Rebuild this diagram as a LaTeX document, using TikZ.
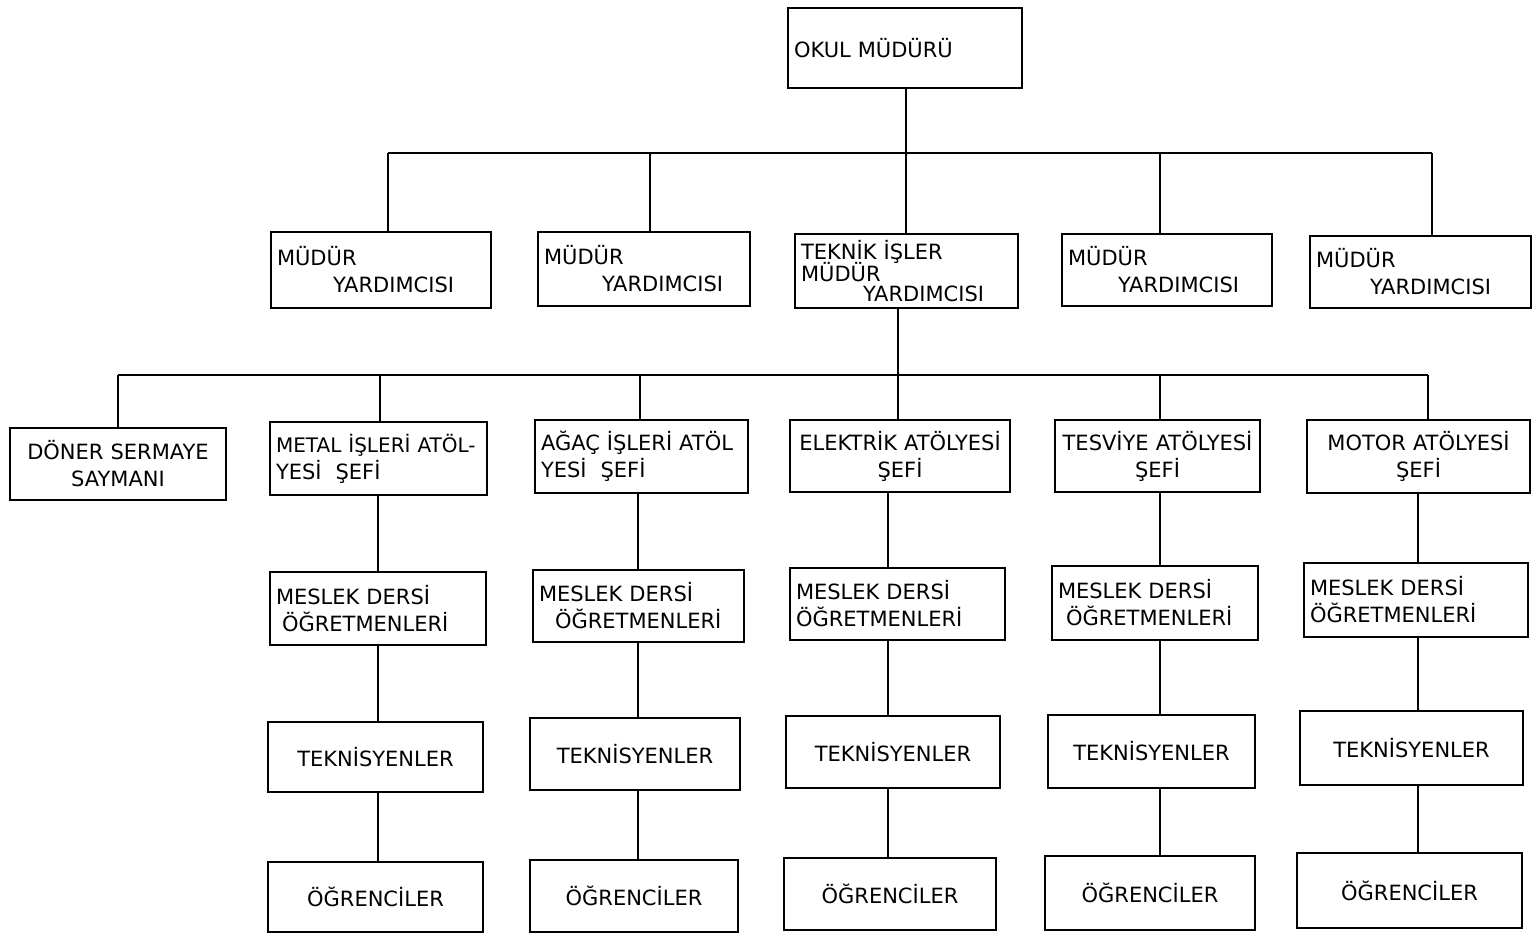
\documentclass[tikz,border=0pt]{standalone}
\usepackage{fontspec}
\setmainfont{DejaVu Sans}
\tikzset{
  box/.style={draw, line width=2pt, inner sep=6pt, font=\fontsize{21}{27}\selectfont},
  conn/.style={line width=1.6pt},
  bus/.style={line width=2.2pt}
}
\newcommand\obox[7]{%
  \pgfmathsetmacro\obW{#4-#2}%
  \pgfmathsetmacro\obH{#5-#3}%
  \pgfmathsetmacro\obX{(#2+#4)/2}%
  \pgfmathsetmacro\obY{(#3+#5)/2}%
  \pgfmathsetmacro\obT{#4-#2-12}%
  \node[box, minimum width=\obW pt, minimum height=\obH pt, text width=\obT pt, align=#6] (#1) at (\obX,\obY) {#7};}
\begin{document}
\begin{tikzpicture}[x=1pt,y=-1pt]
\useasboundingbox (0,0) rectangle (1532,934);
% top
\obox{okul}{788}{8}{1022}{88}{left}{\rule{0pt}{14pt}OKUL MÜDÜRÜ}
% row 2
\obox{y1}{271}{232}{491}{308}{left}{MÜDÜR\\\hspace*{56pt}YARDIMCISI}
\obox{y2}{538}{232}{750}{306}{left}{MÜDÜR\\\hspace*{58pt}YARDIMCISI}
\obox{tk}{795}{234}{1018}{308}{left}{TEKNİK İŞLER\\[-5pt]MÜDÜR\\[-7pt]\hspace*{62pt}YARDIMCISI}
\obox{y3}{1062}{234}{1272}{306}{left}{MÜDÜR\\\hspace*{50pt}YARDIMCISI}
\obox{y4}{1310}{236}{1531}{308}{left}{MÜDÜR\\\hspace*{54pt}YARDIMCISI}
% row 3
\obox{dn}{10}{428}{226}{500}{center}{DÖNER SERMAYE\\SAYMANI}
\obox{s1}{270}{422}{487}{495}{left}{\mbox{\fontsize{20}{27}\selectfont METAL İŞLERİ ATÖL-}\\YESİ \ ŞEFİ}
\obox{s2}{535}{420}{748}{493}{left}{AĞAÇ İŞLERİ ATÖL\\YESİ \ ŞEFİ}
\obox{s3}{790}{420}{1010}{492}{center}{ELEKTRİK ATÖLYESİ\\ŞEFİ}
\obox{s4}{1055}{420}{1260}{492}{center}{TESVİYE ATÖLYESİ\\ŞEFİ}
\obox{s5}{1307}{420}{1530}{493}{center}{MOTOR ATÖLYESİ\\ŞEFİ}
% row 4
\obox{o1}{270}{572}{486}{645}{left}{MESLEK DERSİ\\\hspace*{6pt}ÖĞRETMENLERİ}
\obox{o2}{533}{570}{744}{642}{left}{MESLEK DERSİ\\\hspace*{16pt}ÖĞRETMENLERİ}
\obox{o3}{790}{568}{1005}{640}{left}{MESLEK DERSİ\\ÖĞRETMENLERİ}
\obox{o4}{1052}{566}{1258}{640}{left}{MESLEK DERSİ\\\hspace*{8pt}ÖĞRETMENLERİ}
\obox{o5}{1304}{563}{1528}{637}{left}{MESLEK DERSİ\\ÖĞRETMENLERİ}
% row 5
\obox{t1}{268}{722}{483}{792}{center}{TEKNİSYENLER}
\obox{t2}{530}{718}{740}{790}{center}{TEKNİSYENLER}
\obox{t3}{786}{716}{1000}{788}{center}{TEKNİSYENLER}
\obox{t4}{1048}{715}{1255}{788}{center}{TEKNİSYENLER}
\obox{t5}{1300}{711}{1523}{785}{center}{TEKNİSYENLER}
% row 6
\obox{g1}{268}{862}{483}{932}{center}{ÖĞRENCİLER}
\obox{g2}{530}{860}{738}{932}{center}{ÖĞRENCİLER}
\obox{g3}{784}{858}{996}{930}{center}{ÖĞRENCİLER}
\obox{g4}{1045}{856}{1255}{930}{center}{ÖĞRENCİLER}
\obox{g5}{1297}{853}{1522}{928}{center}{ÖĞRENCİLER}
% bus 1
\coordinate (a1) at (388,153);
\coordinate (a2) at (650,153);
\coordinate (a3) at (906,153);
\coordinate (a4) at (1160,153);
\coordinate (a5) at (1432,153);
\draw[bus] (a1) -- (a5);
\draw[conn] (a3 |- okul.south) -- (a3);
\draw[conn] (a1) -- (a1 |- y1.north);
\draw[conn] (a2) -- (a2 |- y2.north);
\draw[conn] (a3) -- (a3 |- tk.north);
\draw[conn] (a4) -- (a4 |- y3.north);
\draw[conn] (a5) -- (a5 |- y4.north);
% bus 2
\coordinate (b0) at (118,375);
\coordinate (b1) at (380,375);
\coordinate (b2) at (640,375);
\coordinate (b3) at (898,375);
\coordinate (b4) at (1160,375);
\coordinate (b5) at (1428,375);
\draw[bus] (b0) -- (b5);
\draw[conn] (b3 |- tk.south) -- (b3);
\draw[conn] (b0) -- (b0 |- dn.north);
\draw[conn] (b1) -- (b1 |- s1.north);
\draw[conn] (b2) -- (b2 |- s2.north);
\draw[conn] (b3) -- (b3 |- s3.north);
\draw[conn] (b4) -- (b4 |- s4.north);
\draw[conn] (b5) -- (b5 |- s5.north);
% columns
\coordinate (c1) at (378,0);
\coordinate (c2) at (638,0);
\coordinate (c3) at (888,0);
\coordinate (c4) at (1160,0);
\coordinate (c5) at (1418,0);
\foreach \i/\s/\o/\t/\g in {1/s1/o1/t1/g1, 2/s2/o2/t2/g2, 3/s3/o3/t3/g3, 4/s4/o4/t4/g4, 5/s5/o5/t5/g5} {
  \draw[conn] (c\i |- \s.south) -- (c\i |- \o.north);
  \draw[conn] (c\i |- \o.south) -- (c\i |- \t.north);
  \draw[conn] (c\i |- \t.south) -- (c\i |- \g.north);
}
\end{tikzpicture}
\end{document}
